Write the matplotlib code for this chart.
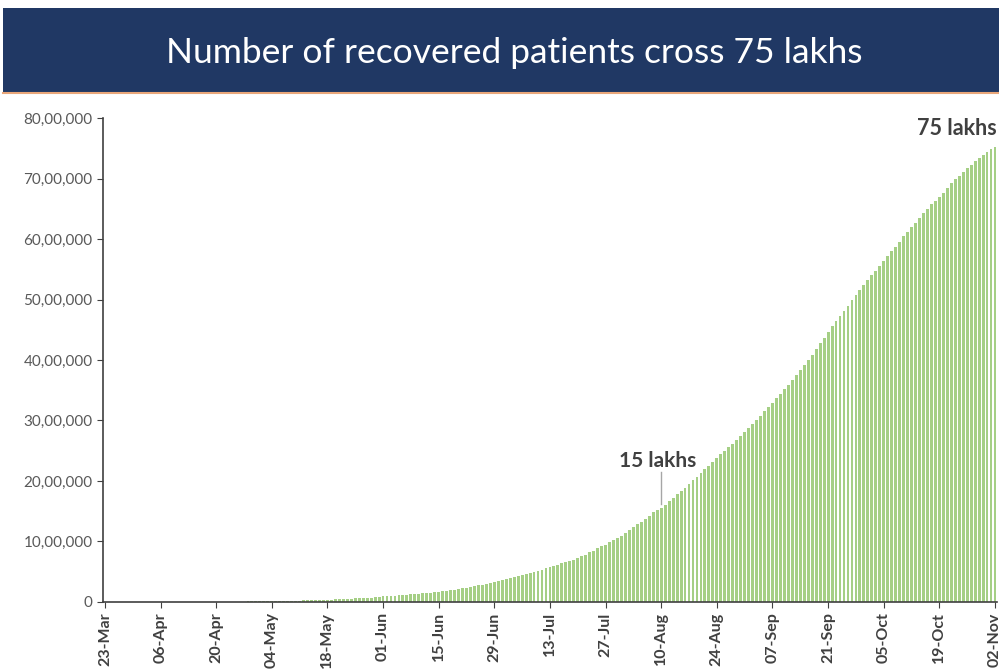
import matplotlib
matplotlib.use("Agg")
import matplotlib.pyplot as plt
from matplotlib.patches import Rectangle
from matplotlib.lines import Line2D
import numpy as np
import pandas as pd

# Cumulative recovered patients (thousands), one value per day 23-Mar .. 02-Nov
mar = [0.04, 0.04, 0.04, 0.04, 0.08, 0.09, 0.10, 0.12, 0.16]
apr = [0.19, 0.23, 0.27, 0.33, 0.35, 0.40, 0.47, 0.57, 0.78, 0.86,
       0.97, 1.04, 1.19, 1.36, 1.49, 1.75, 2.01, 2.23, 2.55, 3.25,
       3.87, 4.32, 4.76, 5.06, 5.80, 6.18, 6.36, 7.03, 7.80, 8.32]
may = [9.0, 10.0, 10.6, 12.7, 13.2, 14.2, 15.3, 16.5, 17.8, 19.4,
       20.9, 23.0, 24.4, 26.2, 27.9, 30.2, 34.1, 36.8, 39.2, 42.3,
       45.3, 48.5, 51.8, 54.4, 57.7, 60.5, 64.4, 67.7, 71.1, 82.4, 86.9]
jun = [91.8, 95.5, 100.3, 104.1, 109.5, 114.1, 119.3, 124.4, 129.2, 135.2,
       141.0, 147.2, 154.3, 162.4, 169.8, 180.0, 186.9, 194.3, 204.7, 213.8,
       227.8, 237.2, 248.2, 258.7, 271.7, 285.6, 295.9, 309.7, 321.7, 347.9]
jul = [359.9, 379.9, 394.2, 409.1, 424.4, 439.9, 456.8, 476.4, 495.5, 515.4,
       534.6, 553.5, 571.5, 592.0, 612.8, 635.8, 653.8, 677.4, 700.1, 724.6,
       753.0, 782.6, 817.2, 849.4, 885.6, 917.6, 948.0, 983.3, 1019.7, 1057.8, 1094.4]
aug = [1145.6, 1186.2, 1230.5, 1282.2, 1328.3, 1377.4, 1427.0, 1480.9, 1520.5, 1553.5,
       1609.6, 1665.9, 1721.6, 1778.9, 1832.3, 1889.8, 1947.8, 2007.9, 2066.7, 2128.9,
       2192.6, 2250.6, 2308.0, 2374.6, 2437.8, 2493.7, 2553.9, 2618.9, 2683.9, 2744.8, 2807.4]
sep = [2871.9, 2934.6, 3007.2, 3077.2, 3150.9, 3220.4, 3293.9, 3368.8, 3441.8, 3512.7,
       3594.2, 3672.6, 3750.1, 3829.4, 3912.4, 3995.1, 4082.6, 4178.4, 4273.0, 4367.2,
       4464.1, 4557.6, 4644.1, 4726.7, 4811.5, 4898.6, 4986.5, 5071.4, 5157.8, 5243.2]
octo = [5322.1, 5397.7, 5478.8, 5557.7, 5632.8, 5714.7, 5797.1, 5876.1, 5958.8, 6047.4,
        6119.5, 6194.8, 6271.9, 6353.4, 6423.8, 6494.6, 6571.4, 6633.6, 6694.8, 6765.1,
        6844.8, 6918.5, 6986.0, 7048.1, 7107.2, 7171.1, 7229.5, 7285.9, 7336.8, 7390.6, 7437.9]
nov = [7488.9, 7514.8]

recovered = np.array(mar + apr + may + jun + jul + aug + sep + octo + nov) * 1000
dates = pd.date_range("2020-03-23", "2020-11-02", freq="D")

tick_labels = ["23-Mar", "06-Apr", "20-Apr", "04-May", "18-May", "01-Jun", "15-Jun",
               "29-Jun", "13-Jul", "27-Jul", "10-Aug", "24-Aug", "07-Sep", "21-Sep",
               "05-Oct", "19-Oct", "02-Nov"]
y_ticks = [0, 1000000, 2000000, 3000000, 4000000, 5000000, 6000000, 7000000, 8000000]
y_labels = ["0", "10,00,000", "20,00,000", "30,00,000", "40,00,000",
            "50,00,000", "60,00,000", "70,00,000", "80,00,000"]

title = "Number of recovered patients cross 75 lakhs"

plt.rcParams['font.family'] = ['Lato', 'DejaVu Sans']

fig = plt.figure(figsize=(9.99, 6.71), dpi=100)

# title banner
fig.patches.append(Rectangle((0.003, 0.863), 0.997, 0.125, transform=fig.transFigure,
                             facecolor="#203864", edgecolor="none", zorder=0))
fig.lines.append(Line2D([0.003, 1.0], [0.862, 0.862], transform=fig.transFigure,
                        color="#E9A77A", linewidth=1.5))
fig.text(0.515, 0.906, title, color="white", fontsize=25.5, ha="center", va="baseline")

ax = fig.add_axes([0.103, 0.103, 0.895, 0.721])
x = np.arange(len(recovered))
ax.bar(x, recovered, width=0.72, color="#A5CF85", edgecolor="none")

ax.set_xlim(-0.5, len(recovered) - 0.5)
ax.set_ylim(0, 8000000)
tick_pos = [dates.get_loc(pd.Timestamp(d + "-2020")) for d in tick_labels]
ax.set_xticks(tick_pos)
ax.set_xticklabels(tick_labels, rotation=90, fontsize=11.5, fontweight="bold",
                   color="#404040")
ax.set_yticks(y_ticks)
ax.set_yticklabels(y_labels, fontsize=11, color="#595959")

for s in ["top", "right"]:
    ax.spines[s].set_visible(False)
for s in ["left", "bottom"]:
    ax.spines[s].set_color("#404040")
    ax.spines[s].set_linewidth(1.2)
ax.tick_params(axis="both", length=4, color="#404040")

# annotations
idx_aug10 = dates.get_loc(pd.Timestamp("2020-08-10"))
ax.plot([idx_aug10, idx_aug10], [1620000, 2150000], color="#A6A6A6", linewidth=1)
ax.text(idx_aug10 - 1, 2330000, "15 lakhs", fontsize=15, fontweight="bold",
        color="#404040", ha="center", va="center")
ax.text(len(recovered) - 0.5, 7820000, "75 lakhs", fontsize=15.5, fontweight="bold",
        color="#404040", ha="right", va="center", clip_on=False)

fig.savefig("out.png", dpi=100)
